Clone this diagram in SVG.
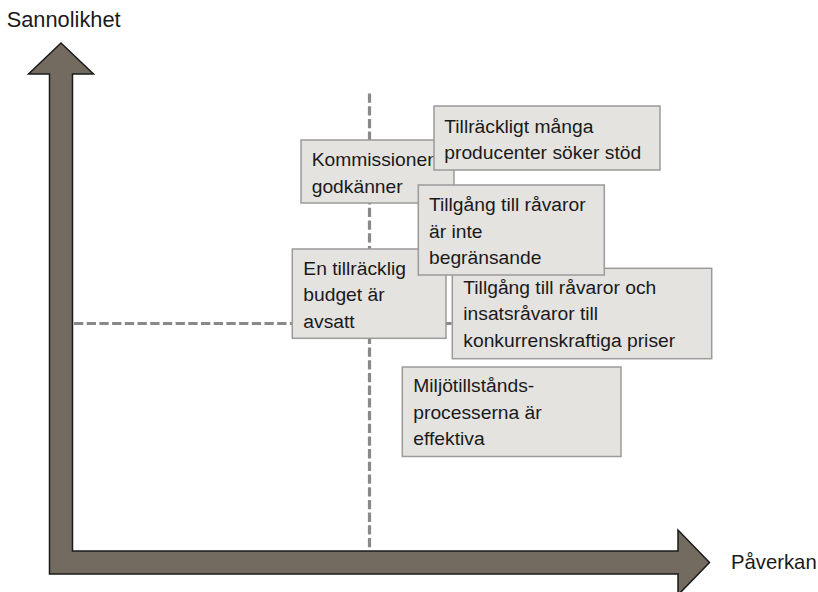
<svg xmlns="http://www.w3.org/2000/svg" width="818" height="592" viewBox="0 0 818 592">
  <style>
    .axis { fill: #736b5f; stroke: #1a1a1a; stroke-width: 1.5; stroke-linejoin: miter; }
    .guide { fill: none; stroke: #898989; stroke-width: 3.2; stroke-dasharray: 9.3 3.4; }
    .box { fill: #e4e3e0; stroke: #9b9b9b; stroke-width: 1.5; }
    .lbl { font-family: "Liberation Sans", Arial, sans-serif; font-size: 19.25px; fill: #1a1a1a; }
    .axlbl { font-family: "Liberation Sans", Arial, sans-serif; font-size: 21.8px; fill: #1a1a1a; }
  </style>
  <rect width="818" height="592" fill="#ffffff"/>

  <g id="axes">
    <polygon class="axis" points="61,43 93.5,74 72.5,74 72.5,551 678,551 678,530 709.5,562.5 678,595 678,574 49.5,574 49.5,74 28.5,74"/>
    <text class="axlbl" x="6.7" y="26.7">Sannolikhet</text>
    <text class="axlbl" x="731" y="569.3" style="font-size:20.3px">Påverkan</text>
  </g>

  <g id="connectors">
    <line class="guide" x1="74" y1="323.5" x2="460" y2="323.5"/>
    <line class="guide" x1="369.5" y1="93.5" x2="369.5" y2="550"/>
  </g>

  <g id="kommissionen">
    <rect class="box" x="301" y="140" width="153" height="63"/>
    <text class="lbl" x="311.7" y="166">Kommissionen</text>
    <text class="lbl" x="311.7" y="192.5">godkänner</text>
  </g>

  <g id="producenter">
    <rect class="box" x="434" y="106" width="226" height="64"/>
    <text class="lbl" x="444.3" y="132.5">Tillräckligt många</text>
    <text class="lbl" x="444.3" y="159">producenter söker stöd</text>
  </g>

  <g id="budget">
    <rect class="box" x="292.3" y="249" width="153.7" height="89.3"/>
    <text class="lbl" x="303.3" y="274.8">En tillräcklig</text>
    <text class="lbl" x="303.3" y="301.3">budget är</text>
    <text class="lbl" x="303.3" y="327.8">avsatt</text>
  </g>

  <g id="priser">
    <rect class="box" x="452.3" y="268.3" width="259.4" height="90.4"/>
    <text class="lbl" x="463.3" y="293.8">Tillgång till råvaror och</text>
    <text class="lbl" x="463.3" y="320.3">insatsråvaror till</text>
    <text class="lbl" x="463.3" y="346.8">konkurrenskraftiga priser</text>
  </g>

  <g id="miljo">
    <rect class="box" x="402.3" y="367" width="218.7" height="89.5"/>
    <text class="lbl" x="413.3" y="392.3">Miljötillstånds-</text>
    <text class="lbl" x="413.3" y="418.8">processerna är</text>
    <text class="lbl" x="413.3" y="445.3">effektiva</text>
  </g>

  <g id="ravaror">
    <rect class="box" x="418.3" y="185" width="186" height="90"/>
    <text class="lbl" x="429" y="211.3">Tillgång till råvaror</text>
    <text class="lbl" x="429" y="237.8">är inte</text>
    <text class="lbl" x="429" y="264.3">begränsande</text>
  </g>
</svg>
